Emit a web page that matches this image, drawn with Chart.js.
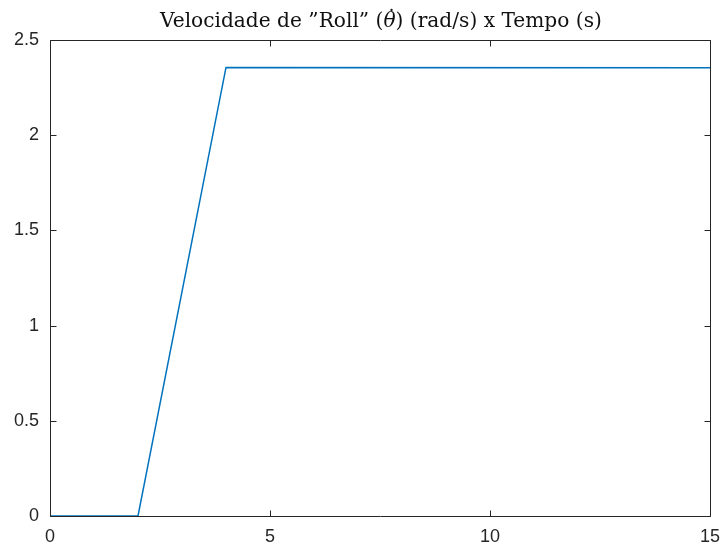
<!DOCTYPE html>
<html>
<head>
<meta charset="utf-8">
<script src="https://cdn.jsdelivr.net/npm/chart.js@4.4.1/dist/chart.umd.min.js"></script>
<style>
  html, body { margin: 0; padding: 0; background: #ffffff; }
  #wrap { width: 724px; height: 547px; }
</style>
</head>
<body>
<div id="wrap"><canvas id="c" width="724" height="547"></canvas></div>
<script>
// Roll rate (rad/s) over time (s)
const tempo = [0, 2, 4, 15];
const rollRate = [0, 0, 2.3562, 2.3540];
const xTicks = [0, 5, 10, 15];
const yTicks = [0, 0.5, 1, 1.5, 2, 2.5];
// title pieces: [text, italic]
const titleParts = [
  ['Velocidade de \u201DRoll\u201D (', false],
  ['\u03B8', true],
  [') (rad/s) x Tempo (s)', false]
];

const axisColor = '#262626';
const titleWidth = 442;

// Box around the plot area, inward ticks on all four sides, and the title
const boxPlugin = {
  id: 'boxTicks',
  afterDraw(chart) {
    const { ctx, chartArea: a, scales } = chart;
    ctx.save();
    ctx.strokeStyle = axisColor;
    ctx.lineWidth = 1;
    const L = Math.round(a.left) + 0.5, R = Math.round(a.right) + 0.5;
    const T = Math.round(a.top) + 0.5, B = Math.round(a.bottom) + 0.5;
    ctx.beginPath();
    ctx.rect(L, T, R - L, B - T);
    ctx.stroke();
    const len = 6;
    ctx.beginPath();
    xTicks.forEach(v => {
      const x = Math.round(scales.x.getPixelForValue(v)) + 0.5;
      ctx.moveTo(x, B); ctx.lineTo(x, B - len);
      ctx.moveTo(x, T); ctx.lineTo(x, T + len);
    });
    yTicks.forEach(v => {
      const y = Math.round(scales.y.getPixelForValue(v)) + 0.5;
      ctx.moveTo(L, y); ctx.lineTo(L + len, y);
      ctx.moveTo(R, y); ctx.lineTo(R - len, y);
    });
    ctx.stroke();

    // title, sized to its printed width, theta in italic with a dot above
    const fam = '"DejaVu Serif", "Liberation Serif", serif';
    const fontFor = (sz, it) => (it ? 'italic ' : '') + sz.toFixed(2) + 'px ' + fam;
    let w0 = 0;
    titleParts.forEach(([t, it]) => { ctx.font = fontFor(17, it); w0 += ctx.measureText(t).width; });
    const size = 17 * titleWidth / w0;
    let x = (a.left + a.right) / 2 + 1 - titleWidth / 2;
    const base = 27;
    ctx.fillStyle = '#111111';
    ctx.textAlign = 'left';
    ctx.textBaseline = 'alphabetic';
    titleParts.forEach(([t, it]) => {
      ctx.font = fontFor(size, it);
      const tw = ctx.measureText(t).width;
      ctx.fillText(t, x, base);
      if (it) {
        ctx.font = fontFor(size, false);
        ctx.textAlign = 'center';
        ctx.fillText('\u02D9', x + tw / 2 + 2, base - 3);
        ctx.textAlign = 'left';
      }
      x += tw;
    });
    ctx.restore();
  }
};

const zeroPad = s => { s.paddingLeft = 0; s.paddingRight = 0; s.paddingTop = 0; s.paddingBottom = 0; };

new Chart(document.getElementById('c'), {
  type: 'line',
  data: {
    datasets: [{
      data: tempo.map((t, i) => ({ x: t, y: rollRate[i] })),
      borderColor: '#0072BD',
      borderWidth: 1.5,
      pointRadius: 0,
      fill: false,
      tension: 0
    }]
  },
  options: {
    responsive: false,
    animation: false,
    layout: { padding: { top: 40, right: 14, left: 0, bottom: 0 } },
    plugins: { legend: { display: false }, title: { display: false }, tooltip: { enabled: false } },
    scales: {
      x: {
        type: 'linear',
        min: 0, max: 15,
        afterBuildTicks(s) { s.ticks = xTicks.map(v => ({ value: v })); },
        afterFit(s) { s.height = 31; zeroPad(s); },
        grid: { display: false, drawTicks: false },
        border: { display: false },
        ticks: { color: axisColor, padding: 10, maxRotation: 0, callback: v => String(v), font: { family: '"Liberation Sans", Arial, sans-serif', size: 18 } }
      },
      y: {
        type: 'linear',
        min: 0, max: 2.5,
        afterBuildTicks(s) { s.ticks = yTicks.map(v => ({ value: v })); },
        afterFit(s) { s.width = 50; zeroPad(s); },
        grid: { display: false, drawTicks: false },
        border: { display: false },
        ticks: { color: axisColor, padding: 11, callback: v => String(v), font: { family: '"Liberation Sans", Arial, sans-serif', size: 18 } }
      }
    }
  },
  plugins: [boxPlugin]
});
</script>
</body>
</html>
